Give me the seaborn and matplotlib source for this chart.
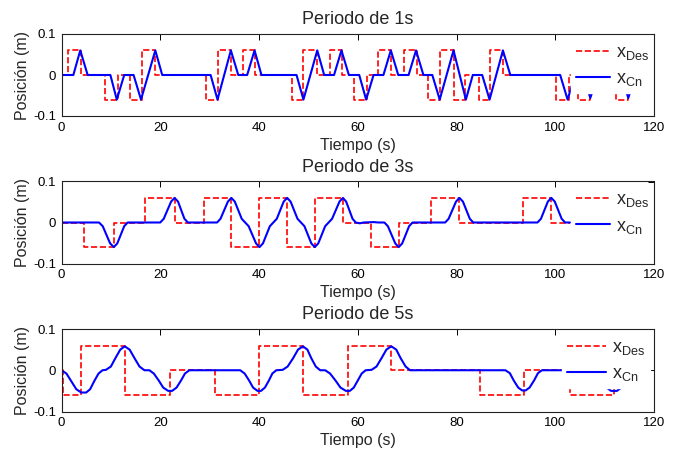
import matplotlib
matplotlib.use("Agg")
import matplotlib.pyplot as plt
import seaborn as sns
import pandas as pd

# ---------------- data ----------------
titles = ["Periodo de 1s", "Periodo de 3s", "Periodo de 5s"]
x_label = "Tiempo (s)"
y_label = "Posición (m)"
x_ticks = [0, 20, 40, 60, 80, 100, 120]
y_ticks = [-0.1, 0, 0.1]
y_tick_labels = ["-0.1", "0", "0.1"]
legend_labels = [r"$\mathregular{x_{Des}}$", r"$\mathregular{x_{Cn}}$"]

# desired signal (step changes: time, level)
des1_t = [0, 1.4, 4.0, 8.8, 11.4, 13.8, 16.3, 19.0, 29.3, 31.6, 34.3, 36.7, 39.2, 46.7, 49.0,
          51.8, 54.3, 56.8, 59.3, 61.9, 64.2, 66.8, 69.3, 71.9, 74.2, 76.7, 79.4, 81.8, 84.5,
          86.8, 89.5, 100.2, 102.7, 104.6, 107.1, 112.3, 114.8, 116.5]
des1_y = [0, 0.06, 0, -0.06, 0, -0.06, 0.06, 0, -0.06, 0.06, 0, 0.06, 0, -0.06, 0.06,
          0, 0.06, 0, -0.06, 0, 0.06, 0, 0.06, 0, -0.06, 0.06, -0.06, 0, -0.06,
          0.06, 0, -0.06, 0, -0.06, 0, -0.06, 0, 0]

des2_t = [0, 4.65, 10.6, 17.0, 22.9, 28.8, 34.4, 40.1, 45.7, 51.3, 57.0, 62.7, 68.3, 74.8,
          80.6, 93.5, 99.2, 103.0]
des2_y = [0, -0.06, 0, 0.06, 0, 0.06, -0.06, 0.06, -0.06, 0.06, 0, -0.06, 0, 0.06,
          0, 0.06, 0, 0]

des3_t = [0, 0.3, 4.0, 12.8, 21.9, 31.0, 39.9, 48.9, 58.0, 66.8, 84.8, 93.7, 102.9, 111.8, 112.5]
des3_y = [0, -0.06, 0.06, -0.06, 0, -0.06, 0.06, -0.06, 0.06, 0, -0.06, 0, -0.06, 0, 0]

cn1_pts = [(0, 0), (2.4, 0), (3.8, 0.06), (5.3, 0), (9.9, 0), (11.2, -0.06), (12.7, 0),
           (14.6, 0), (16.1, -0.06), (19.0, 0.06), (20.4, 0), (30.2, 0), (31.6, -0.06),
           (34.3, 0.06), (35.8, 0), (37.6, 0), (39.1, 0.06), (40.5, 0), (47.6, 0),
           (49.0, -0.06), (51.8, 0.06), (53.2, 0), (55.2, 0), (56.7, 0.06), (58.2, 0),
           (60.3, 0), (61.7, -0.06), (63.2, 0), (65.2, 0), (66.7, 0.06), (68.2, 0),
           (70.3, 0), (71.8, 0.06), (73.3, 0), (75.1, 0), (76.6, -0.06), (79.4, 0.06),
           (81.9, -0.06), (83.3, 0), (85.2, 0), (86.7, -0.06), (89.4, 0.06), (90.9, 0),
           (101.0, 0), (102.5, -0.06), (104.0, 0), (105.7, 0), (107.1, -0.056), (108.6, 0),
           (113.3, 0), (114.8, -0.056), (116.2, 0)]

cn2_pts = [(0, 0), (7.6, 0), (8.35, -0.009), (9.1, -0.03), (9.85, -0.051), (10.6, -0.06),
           (11.3, -0.051), (12.0, -0.03), (12.7, -0.009), (13.4, 0), (20.0, 0), (20.7, 0.009),
           (21.45, 0.03), (22.2, 0.051), (22.9, 0.06), (23.6, 0.051), (24.25, 0.03),
           (24.9, 0.009), (25.6, 0), (31.5, 0), (32.2, 0.009), (32.95, 0.03), (33.7, 0.051),
           (34.4, 0.06), (35.1, 0.051), (35.8, 0.03), (36.5, 0.009), (37.2, 0),
           (37.9, -0.009), (38.65, -0.03), (39.4, -0.051), (40.1, -0.06), (40.8, -0.051),
           (41.5, -0.03), (42.2, -0.009), (42.9, 0), (43.6, 0.009), (44.3, 0.03),
           (45.0, 0.051), (45.7, 0.06), (46.4, 0.051), (47.1, 0.03), (47.8, 0.009),
           (48.5, 0), (49.2, -0.009), (49.9, -0.03), (50.6, -0.051), (51.3, -0.06),
           (52.0, -0.051), (52.7, -0.03), (53.4, -0.009), (54.1, 0), (54.8, 0.009),
           (55.55, 0.03), (56.3, 0.051), (57.0, 0.06), (57.65, 0.051), (58.3, 0.03),
           (58.95, 0.009), (59.6, 0), (60.4, -0.002), (61.2, 0), (63.2, 0.001), (64.2, 0),
           (65.4, 0), (66.1, -0.009),
           (66.85, -0.03), (67.6, -0.051), (68.3, -0.06), (69.0, -0.051), (69.7, -0.03),
           (70.4, -0.009), (71.1, 0), (77.7, 0), (78.4, 0.009), (79.15, 0.03), (79.9, 0.051),
           (80.6, 0.06), (81.3, 0.051), (82.0, 0.03), (82.7, 0.009), (83.4, 0), (96.4, 0),
           (97.1, 0.009), (97.8, 0.03), (98.5, 0.051), (99.2, 0.06), (99.9, 0.051),
           (100.6, 0.03), (101.3, 0.009), (102.0, 0), (103.0, 0)]

cn3_pts = [(0, 0), (1.0, -0.008), (2.0, -0.027), (3.0, -0.046), (4.0, -0.054), (5.0, -0.054),
           (5.8, -0.046), (6.6, -0.027), (7.5, -0.008), (8.3, 0), (9.0, 0.001), (10.0, 0.009),
           (10.9, 0.029), (11.9, 0.05), (12.8, 0.058), (13.8, 0.05), (14.8, 0.029),
           (15.8, 0.009), (16.8, 0), (17.8, 0), (18.7, -0.008), (19.7, -0.025), (20.6, -0.042),
           (21.6, -0.05), (22.4, -0.05), (23.3, -0.042), (24.2, -0.025), (25.0, -0.008),
           (25.9, 0), (36.2, 0), (37.1, -0.008), (38.0, -0.025), (38.8, -0.042), (39.7, -0.05),
           (40.4, -0.05), (41.2, -0.042), (42.0, -0.025), (42.7, -0.008), (43.5, 0),
           (44.8, 0.001), (45.8, 0.009), (46.9, 0.029), (47.9, 0.05), (48.9, 0.058),
           (49.8, 0.05), (50.6, 0.029), (51.5, 0.009), (52.4, 0), (53.4, 0), (54.4, -0.008),
           (55.5, -0.025), (56.5, -0.042), (57.6, -0.05), (58.4, -0.05), (59.2, -0.042),
           (60.0, -0.025), (60.8, -0.008), (61.6, 0), (62.8, 0.001), (63.8, 0.009),
           (64.8, 0.029), (65.8, 0.05), (66.8, 0.058), (67.8, 0.05), (68.7, 0.029),
           (69.7, 0.009), (70.6, 0), (89.9, 0), (90.8, -0.007), (91.6, -0.025), (92.5, -0.042),
           (93.3, -0.049), (94.0, -0.049), (94.8, -0.042), (95.7, -0.025), (96.5, -0.007),
           (97.3, 0), (107.7, 0), (108.6, -0.007), (109.5, -0.025), (110.4, -0.042),
           (111.3, -0.05), (112.5, -0.05), (113.4, -0.042), (114.3, -0.025), (115.1, -0.007),
           (116.0, 0)]

des_all = [(des1_t, des1_y), (des2_t, des2_y), (des3_t, des3_y)]
cn_all = [cn1_pts, cn2_pts, cn3_pts]

# ---------------- style ----------------
sns.set_style("white")
plt.rcParams["font.family"] = ["Liberation Sans", "DejaVu Sans"]

fig = plt.figure(figsize=(6.78, 4.5), dpi=100)
W, H = 678.0, 450.0
left_px, right_px = 61.5, 654.0
panel_px = [(34.0, 116.0), (181.5, 263.5), (329.0, 411.5)]
legend_x = [0.86, 0.86, 0.845]
legend_hl = [1.9, 1.9, 2.2]

for i in range(3):
    top, bot = panel_px[i]
    ax = fig.add_axes([left_px / W, 1 - bot / H, (right_px - left_px) / W, (bot - top) / H])
    dt, dy = des_all[i]
    df_des = pd.DataFrame({"t": dt, "y": dy})
    df_cn = pd.DataFrame(cn_all[i], columns=["t", "y"])
    sns.lineplot(data=df_des, x="t", y="y", ax=ax, color=(1, 0, 0), linestyle="--",
                 linewidth=1.2, drawstyle="steps-post", estimator=None, sort=False)
    sns.lineplot(data=df_cn, x="t", y="y", ax=ax, color=(0, 0, 1), linestyle="-",
                 linewidth=1.5, estimator=None, sort=False)
    ax.set_xlim(0, 120)
    ax.set_ylim(-0.1, 0.1)
    ax.set_xticks(x_ticks)
    ax.set_yticks(y_ticks)
    ax.set_yticklabels(y_tick_labels)
    ax.tick_params(direction="in", top=True, right=True, length=4, width=0.7,
                   labelsize=9.5, colors="black", pad=4)
    for sp in ax.spines.values():
        sp.set_visible(True)
        sp.set_linewidth(0.8)
        sp.set_color("#222222")
    ax.set_title(titles[i], fontsize=13, pad=7)
    ax.set_xlabel(x_label, fontsize=11.5, labelpad=3)
    ax.set_ylabel(y_label, fontsize=11.5, labelpad=2)
    lines = ax.get_lines()
    leg = ax.legend(lines[:2], legend_labels, loc="upper left",
                    bbox_to_anchor=(legend_x[i], 0.934), frameon=True, facecolor="white",
                    edgecolor="white", framealpha=1, fancybox=False, borderaxespad=0,
                    fontsize=13, handlelength=legend_hl[i], handletextpad=0.32,
                    labelspacing=0.45, borderpad=0.25)
    leg.set_zorder(2.4)

fig.savefig("out.png", dpi=100)
